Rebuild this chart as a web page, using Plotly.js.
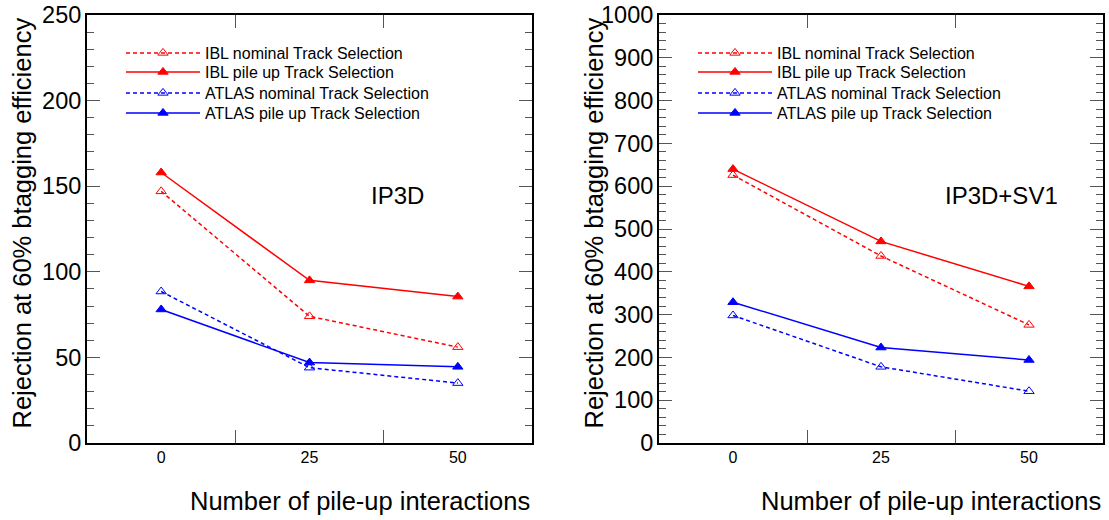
<!DOCTYPE html>
<html><head><meta charset="utf-8">
<script src="https://cdn.plot.ly/plotly-3.0.1.min.js"></script>
<style>html,body{margin:0;padding:0;background:#fff}#chart{width:1109px;height:520px}</style>
</head><body><div id="chart"></div>
<script>
// ---- data ----
const pileup = [0, 25, 50];
const xTickLabels = ['0', '25', '50'];
const seriesNames = ['IBL nominal Track Selection', 'IBL pile up Track Selection',
                     'ATLAS nominal Track Selection', 'ATLAS pile up Track Selection'];
// IP3D
const ip3dIBLNominal   = [147, 74, 56];
const ip3dIBLPileup    = [158, 95, 85.5];
const ip3dATLASNominal = [88.5, 44, 35];
const ip3dATLASPileup  = [78, 47, 44.5];
// IP3D+SV1
const sv1IBLNominal   = [626, 437, 276];
const sv1IBLPileup    = [640, 471, 366];
const sv1ATLASNominal = [298, 178, 121];
const sv1ATLASPileup  = [329, 223, 194];
const panelLabels = ['IP3D', 'IP3D+SV1'];
const yTitle = 'Rejection at 60% btagging efficiency';
const xTitle = 'Number of pile-up interactions';

// ---- styling ----
const FONT = 'Liberation Sans, Arial, Helvetica, sans-serif';
const RED = '#ff0000', BLUE = '#0000ff';
const styles = [
  {color: RED,  dash: '4px,3px', symbol: 'triangle-up-open'},
  {color: RED,  dash: 'solid',   symbol: 'triangle-up'},
  {color: BLUE, dash: '4px,3px', symbol: 'triangle-up-open'},
  {color: BLUE, dash: 'solid',   symbol: 'triangle-up'}
];

function legendName(n) { return n === 1 ? 'legend' : 'legend' + n; }

function makeTraces(seriesList, xa, ya, panel) {
  return seriesList.map((ys, i) => ({
    type: 'scatter', mode: 'lines+markers',
    x: pileup, y: ys, name: seriesNames[i],
    xaxis: xa, yaxis: ya, legend: legendName(panel * 4 + i + 1),
    line: {color: styles[i].color, width: 1.5, dash: styles[i].dash},
    marker: {symbol: styles[i].symbol, size: 9, color: styles[i].color,
             line: {color: styles[i].color, width: 1}}
  }));
}

const data = [
  ...makeTraces([ip3dIBLNominal, ip3dIBLPileup, ip3dATLASNominal, ip3dATLASPileup], 'x', 'y', 0),
  ...makeTraces([sv1IBLNominal, sv1IBLPileup, sv1ATLASNominal, sv1ATLASPileup], 'x2', 'y2', 1)
];

const W = 1109, PT = 15, PB = 443, PH = PB - PT;
const leftDom = [87 / W, 532 / W];
const rightDom = [659 / W, 1103 / W];

function xAxis(dom, anchor) {
  return {
    domain: dom, anchor: anchor, range: [-12.5, 62.5], fixedrange: true,
    tickmode: 'array', tickvals: pileup, ticktext: xTickLabels,
    ticks: '', showgrid: false, zeroline: false,
    showline: true, linecolor: '#000', linewidth: 2, mirror: 'ticks',
    tickfont: {family: FONT, size: 16, color: '#000'},
    ticklabelstandoff: -1,
    minor: {tickmode: 'array', tickvals: [12.5, 37.5], ticks: 'inside', ticklen: 13,
            tickcolor: '#555', tickwidth: 1, showgrid: false}
  };
}
function yAxis(dom, anchor, maxv, major, minor) {
  return {
    domain: [0, 1], anchor: anchor, range: [0, maxv], fixedrange: true,
    tickmode: 'linear', tick0: 0, dtick: major,
    ticks: 'inside', ticklen: 13, tickwidth: 1, tickcolor: '#555',
    showgrid: false, zeroline: false,
    showline: true, linecolor: '#000', linewidth: 2, mirror: 'ticks',
    tickfont: {family: FONT, size: 23.5, color: '#000'},
    ticklabelstandoff: -1,
    minor: {dtick: minor, ticks: 'inside', ticklen: 7, tickwidth: 1, tickcolor: '#555', showgrid: false}
  };
}

function py(pix) { return (PB - pix) / PH; }

const rowY = [53, 72, 93, 113];
const legendX = [121, 693];
const layout = {
  width: 1109, height: 520,
  margin: {l: 0, r: 0, t: PT, b: 520 - PB},
  paper_bgcolor: '#fff', plot_bgcolor: '#fff',
  showlegend: true,
  font: {family: FONT, color: '#000'},
  xaxis: xAxis(leftDom, 'y'),
  yaxis: yAxis(leftDom, 'x', 250, 50, 10),
  xaxis2: xAxis(rightDom, 'y2'),
  yaxis2: yAxis(rightDom, 'x2', 1000, 100, 20),
  annotations: [
    {text: panelLabels[0], xref: 'paper', yref: 'paper', x: 397 / W, y: py(195),
     xanchor: 'center', yanchor: 'middle', showarrow: false, font: {family: FONT, size: 24, color: '#000'}},
    {text: panelLabels[1], xref: 'paper', yref: 'paper', x: 1001 / W, y: py(195),
     xanchor: 'center', yanchor: 'middle', showarrow: false, font: {family: FONT, size: 24, color: '#000'}},
    {text: yTitle, xref: 'paper', yref: 'paper', x: 21 / W, y: py(16), textangle: -90,
     xanchor: 'center', yanchor: 'top', showarrow: false, font: {family: FONT, size: 25.5, color: '#000'}},
    {text: yTitle, xref: 'paper', yref: 'paper', x: 593 / W, y: py(16), textangle: -90,
     xanchor: 'center', yanchor: 'top', showarrow: false, font: {family: FONT, size: 25.5, color: '#000'}},
    {text: xTitle, xref: 'paper', yref: 'paper', x: 532 / W, y: py(500.5),
     xanchor: 'right', yanchor: 'middle', showarrow: false, font: {family: FONT, size: 25.5, color: '#000'}},
    {text: xTitle, xref: 'paper', yref: 'paper', x: 1103 / W, y: py(500.5),
     xanchor: 'right', yanchor: 'middle', showarrow: false, font: {family: FONT, size: 25.5, color: '#000'}}
  ]
};
for (let p = 0; p < 2; p++) {
  for (let i = 0; i < 4; i++) {
    layout[legendName(p * 4 + i + 1)] = {
      font: {family: FONT, size: 16, color: '#000'},
      bgcolor: 'rgba(0,0,0,0)', borderwidth: 0,
      itemwidth: 74, tracegroupgap: 0,
      xanchor: 'left', yanchor: 'middle',
      x: legendX[p] / W, y: py(rowY[i])
    };
  }
}

Plotly.newPlot('chart', data, layout, {displayModeBar: false, staticPlot: true});
</script>
</body></html>
